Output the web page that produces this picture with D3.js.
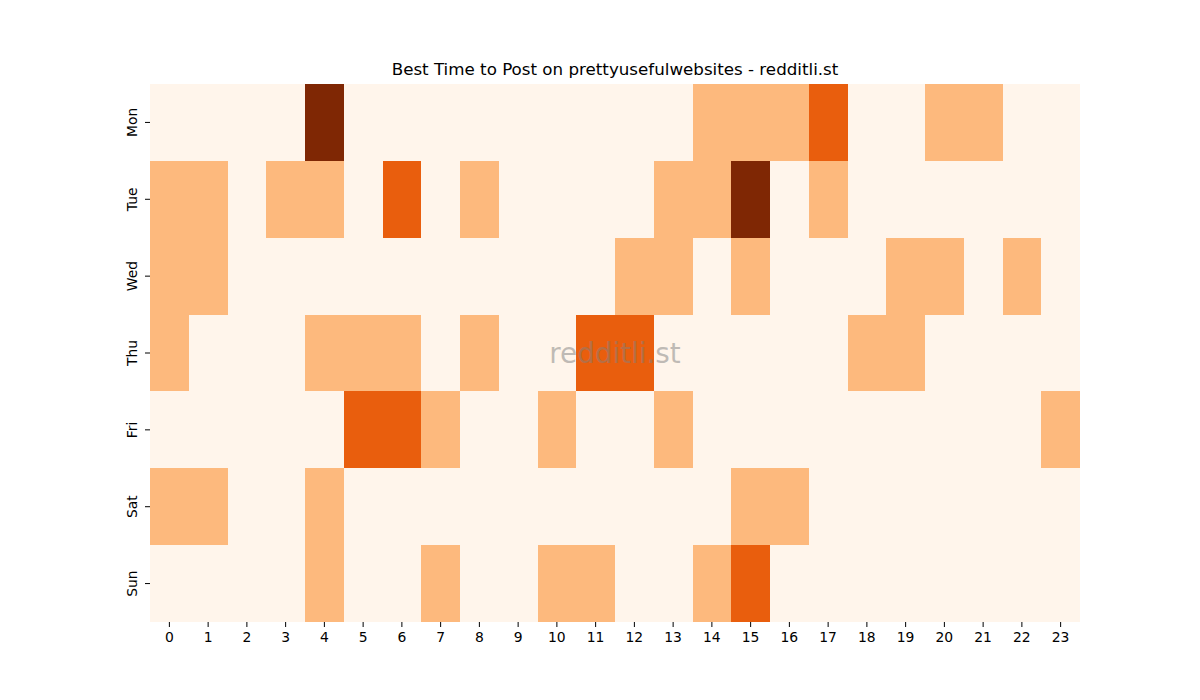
<!DOCTYPE html>
<html>
<head>
<meta charset="utf-8">
<script src="https://cdn.jsdelivr.net/npm/d3@7"></script>
<style>
  body { margin: 0; background: #fff; }
  svg { font-family: "DejaVu Sans", sans-serif; }
</style>
</head>
<body>
<div id="chart"></div>
<script>
// data
var days = ["Mon", "Tue", "Wed", "Thu", "Fri", "Sat", "Sun"];
var hours = d3.range(24);
var mon = [0,0,0,0,3,0,0,0,0,0,0,0,0,0,1,1,1,2,0,0,1,1,0,0];
var tue = [1,1,0,1,1,0,2,0,1,0,0,0,0,1,1,3,0,1,0,0,0,0,0,0];
var wed = [1,1,0,0,0,0,0,0,0,0,0,0,1,1,0,1,0,0,0,1,1,0,1,0];
var thu = [1,0,0,0,1,1,1,0,1,0,0,2,2,0,0,0,0,0,1,1,0,0,0,0];
var fri = [0,0,0,0,0,2,2,1,0,0,1,0,0,1,0,0,0,0,0,0,0,0,0,1];
var sat = [1,1,0,0,1,0,0,0,0,0,0,0,0,0,0,1,1,0,0,0,0,0,0,0];
var sun = [0,0,0,0,1,0,0,1,0,0,1,1,0,0,1,2,0,0,0,0,0,0,0,0];
var rows = [mon, tue, wed, thu, fri, sat, sun];

// set the dimensions and margins of the graph
var margin = {top: 84, right: 120, bottom: 78, left: 150},
    width = 1200 - margin.left - margin.right,
    height = 700 - margin.top - margin.bottom;

var svg = d3.select("#chart").append("svg")
    .attr("width", 1200)
    .attr("height", 700)
  .append("g")
    .attr("transform", "translate(" + margin.left + "," + margin.top + ")");

var x = d3.scaleBand().domain(hours).range([0, width]);
var y = d3.scaleBand().domain(days).range([0, height]);
var color = d3.scaleOrdinal()
    .domain([0, 1, 2, 3])
    .range(["#fff5eb", "#fdb97d", "#e95e0d", "#7f2704"]);

// flatten into cells
var cells = [];
rows.forEach(function(r, i) {
  r.forEach(function(v, h) {
    cells.push({day: days[i], hour: h, value: v});
  });
});

svg.selectAll(".cell")
    .data(cells)
    .enter()
    .append("rect")
    .attr("class", "cell")
    .attr("x", function(d) { return x(d.hour); })
    .attr("y", function(d) { return y(d.day); })
    .attr("width", x.bandwidth())
    .attr("height", y.bandwidth())
    .attr("shape-rendering", "crispEdges")
    .attr("fill", function(d) { return color(d.value); });

// x axis
var xAxis = svg.append("g")
    .attr("transform", "translate(0," + height + ")")
    .call(d3.axisBottom(x).tickSize(5).tickPadding(5));
xAxis.select(".domain").remove();
xAxis.selectAll("text").attr("font-size", "13.9px").attr("fill", "#000")
    .attr("font-family", "DejaVu Sans");

// y axis
var yAxis = svg.append("g")
    .call(d3.axisLeft(y).tickSize(5).tickPadding(4));
yAxis.select(".domain").remove();
yAxis.selectAll("text")
    .attr("font-size", "13.9px").attr("fill", "#000")
    .attr("font-family", "DejaVu Sans")
    .attr("text-anchor", "middle")
    .attr("x", null).attr("dy", null)
    .attr("transform", "translate(-18,0) rotate(-90)")
    .attr("dominant-baseline", "central");

// title
svg.append("text")
    .attr("x", width / 2)
    .attr("y", -9)
    .attr("text-anchor", "middle")
    .attr("font-size", "16.7px")
    .text("Best Time to Post on prettyusefulwebsites - redditli.st");

// watermark
svg.append("text")
    .attr("x", width / 2)
    .attr("y", height / 2 + 10)
    .attr("text-anchor", "middle")
    .attr("font-size", "27.8px")
    .attr("fill", "#808080")
    .attr("fill-opacity", 0.5)
    .text("redditli.st");
</script>
</body>
</html>
